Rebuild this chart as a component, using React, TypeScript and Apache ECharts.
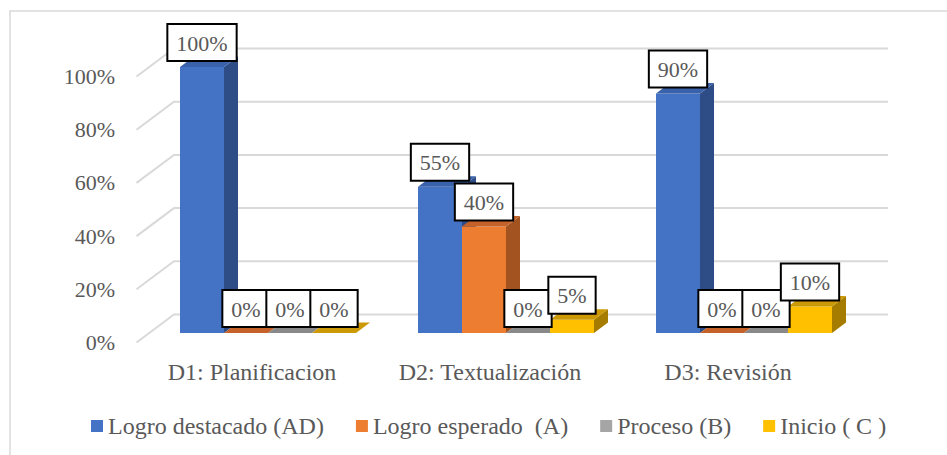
import React, { useEffect, useRef } from "react";
import * as echarts from "echarts";

const categories = ["D1: Planificacion", "D2: Textualización", "D3: Revisión"];
const seriesNames = ["Logro destacado (AD)", "Logro esperado  (A)", "Proceso (B)", "Inicio ( C )"];
const logroDestacado = [1.0, 0.55, 0.9];
const logroEsperado = [0, 0.4, 0];
const proceso = [0, 0, 0];
const inicio = [0, 0.05, 0.1];
const yTicks = [0, 0.2, 0.4, 0.6, 0.8, 1.0];

const seriesValues = [logroDestacado, logroEsperado, proceso, inicio];

const frontColors = ["#4472C4", "#ED7D31", "#A5A5A5", "#FFC000"];
const sideColors = ["#2E4D87", "#A3531F", "#727272", "#A67C00"];
const topColors = ["#3A62AA", "#C5622A", "#898989", "#CC9A06"];

const FONT = "'Times New Roman', 'Liberation Serif', 'DejaVu Serif', serif";
const TEXT = "#595959";
const GRID_COLOR = "#D9D9D9";

// bar depth offsets (px)
const BAR_DX = 14;
const BAR_DY = -10.5;
// wall offsets relative to bar plane
const BACK_DX = 25;
const BACK_DY = -18.5;
const FRONT_DX = -12.5;
const FRONT_DY = 9.5;

export default function App() {
  const ref = useRef<HTMLDivElement>(null);
  useEffect(() => {
    if (!ref.current) return;
    const chart = echarts.init(ref.current, null, { renderer: "svg" });

    const barSeries = seriesValues.map((vals, sIdx) => ({
      type: "custom",
      name: seriesNames[sIdx],
      xAxisIndex: 0,
      yAxisIndex: 0,
      z: 3,
      clip: false,
      itemStyle: { color: frontColors[sIdx] },
      data: vals.map((v, i) => [i, v]),
      renderItem: (params: any, api: any) => {
        const ci = api.value(0);
        const v = api.value(1);
        const base = api.coord([ci, 0]);
        const top = api.coord([ci, v]);
        const band = api.size([1, 0])[0];
        const bw = (band * 44) / 238;
        const x0 = base[0] - 2 * bw + sIdx * bw;
        const yT = top[1];
        const yB = base[1];
        const children: any[] = [];
        if (yB - yT > 0.01) {
          children.push({
            type: "polygon",
            shape: {
              points: [
                [x0 + bw, yT],
                [x0 + bw + BAR_DX, yT + BAR_DY],
                [x0 + bw + BAR_DX, yB + BAR_DY],
                [x0 + bw, yB],
              ],
            },
            style: { fill: sideColors[sIdx] },
          });
          children.push({
            type: "rect",
            shape: { x: x0, y: yT, width: bw, height: yB - yT },
            style: { fill: frontColors[sIdx] },
          });
        }
        children.push({
          type: "polygon",
          shape: {
            points: [
              [x0, yT],
              [x0 + BAR_DX, yT + BAR_DY],
              [x0 + bw + BAR_DX, yT + BAR_DY],
              [x0 + bw, yT],
            ],
          },
          style: { fill: topColors[sIdx] },
        });
        return { type: "group", children };
      },
    }));

    const labelSeries = seriesValues.map((vals, sIdx) => ({
      type: "custom",
      name: "label-" + sIdx,
      xAxisIndex: 0,
      yAxisIndex: 0,
      z: 10,
      clip: false,
      data: vals.map((v, i) => [i, v]),
      renderItem: (params: any, api: any) => {
        const ci = api.value(0);
        const v = api.value(1);
        const base = api.coord([ci, 0]);
        const top = api.coord([ci, v]);
        const band = api.size([1, 0])[0];
        const bw = (band * 44) / 238;
        const x0 = base[0] - 2 * bw + sIdx * bw;
        return {
          type: "text",
          x: x0 + bw / 2,
          y: top[1] - 7,
          style: {
            text: Math.round(v * 100) + "%",
            font: "22px " + FONT,
            fill: TEXT,
            align: "center",
            verticalAlign: "bottom",
            backgroundColor: "#fff",
            borderColor: "#000",
            borderWidth: 2,
            padding: [6, 8, 5, 8],
            lineHeight: 24,
          },
        };
      },
    }));

    const gridSeries = {
      type: "custom",
      name: "grid-lines",
      xAxisIndex: 0,
      yAxisIndex: 0,
      z: 1,
      clip: false,
      silent: true,
      data: yTicks.map((v) => [0, v]),
      renderItem: (params: any, api: any) => {
        const v = api.value(1);
        const y = api.coord([0, v])[1];
        const cs = params.coordSys;
        const L = cs.x;
        const R = cs.x + cs.width;
        return {
          type: "polyline",
          shape: {
            points: [
              [L + FRONT_DX, y + FRONT_DY],
              [L + BACK_DX, y + BACK_DY],
              [R + BACK_DX, y + BACK_DY],
            ],
          },
          style: { stroke: GRID_COLOR, lineWidth: 2, fill: "none" },
        };
      },
    };

    chart.setOption({
      animation: false,
      backgroundColor: "#fff",
      textStyle: { fontFamily: FONT },
      graphic: [
        {
          type: "rect",
          shape: { x: 10, y: 11, width: 1000, height: 500 },
          style: { fill: "none", stroke: GRID_COLOR, lineWidth: 1.5 },
          silent: true,
        },
      ],
      legend: {
        data: seriesNames,
        left: 91,
        top: 414,
        padding: 0,
        itemWidth: 12,
        itemHeight: 12,
        itemGap: 32,
        icon: "rect",
        textStyle: { fontFamily: FONT, fontSize: 24, color: TEXT, lineHeight: 24 },
      },
      grid: [
        { left: 149, top: 67, width: 714, height: 266 },
        { left: 133, top: 76.5, width: 714, height: 266 },
      ],
      xAxis: [
        { type: "category", gridIndex: 0, data: categories, show: false },
        {
          type: "category",
          gridIndex: 1,
          data: categories,
          axisLine: { show: false },
          axisTick: { show: false },
          axisLabel: {
            margin: 17,
            fontFamily: FONT,
            fontSize: 24,
            color: TEXT,
            lineHeight: 24,
          },
        },
      ],
      yAxis: [
        { type: "value", gridIndex: 0, min: 0, max: 1, interval: 0.2, show: false },
        {
          type: "value",
          gridIndex: 1,
          min: 0,
          max: 1,
          interval: 0.2,
          axisLine: { show: false },
          axisTick: { show: false },
          splitLine: { show: false },
          axisLabel: {
            margin: 18,
            fontFamily: FONT,
            fontSize: 22,
            color: TEXT,
            formatter: (v: number) => Math.round(v * 100) + "%",
          },
        },
      ],
      series: [gridSeries, ...barSeries, ...labelSeries],
    });

    return () => chart.dispose();
  }, []);
  return (
    <div
      ref={ref}
      style={{ position: "fixed", left: 0, top: 0, width: 947, height: 455, background: "#fff" }}
    />
  );
}
